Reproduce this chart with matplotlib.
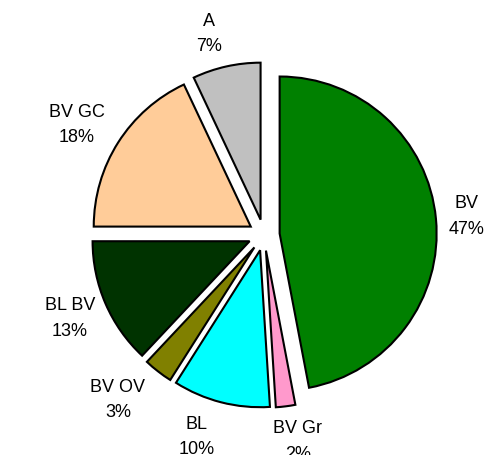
import matplotlib.pyplot as plt

# slice data, clockwise from 12 o'clock
labels = ['BV', 'BV Gr', 'BL', 'BV OV', 'BL BV', 'BV GC', 'A']
shares = [47, 2, 10, 3, 13, 18, 7]
colors = ['#008000', '#FF99CC', '#00FFFF', '#808000', '#003300', '#FFCC99', '#C0C0C0']

plt.rcParams['font.family'] = ['Liberation Sans', 'DejaVu Sans']

fig = plt.figure(figsize=(4.88, 4.56), dpi=100)
ax = fig.add_axes([0, 0, 1, 1])

R_PX = 157  # pie radius in pixels

texts = [f'{lab}\n{v}%' for lab, v in zip(labels, shares)]
wedges, txts = ax.pie(shares, labels=texts, colors=colors, startangle=90,
                      counterclock=False, explode=[0.1] * len(shares),
                      labeldistance=1.22,
                      wedgeprops=dict(edgecolor='black', linewidth=1.5),
                      textprops=dict(fontsize=13, linespacing=1.65))

# small horizontal nudges (px) so labels sit like the original
nudge = [-4, 8, -16, -19, -4, -12, -10]
for t, dx in zip(txts, nudge):
    t.set_horizontalalignment('center')
    t.set_verticalalignment('center')
    x, y = t.get_position()
    t.set_position((x + dx / R_PX, y))

# place pie centre at pixel (264, 236)
ax.set_xlim(-264 / R_PX, (488 - 264) / R_PX)
ax.set_ylim(-(456 - 236) / R_PX, 236 / R_PX)
ax.axis('off')

plt.savefig('out.png', dpi=100)
